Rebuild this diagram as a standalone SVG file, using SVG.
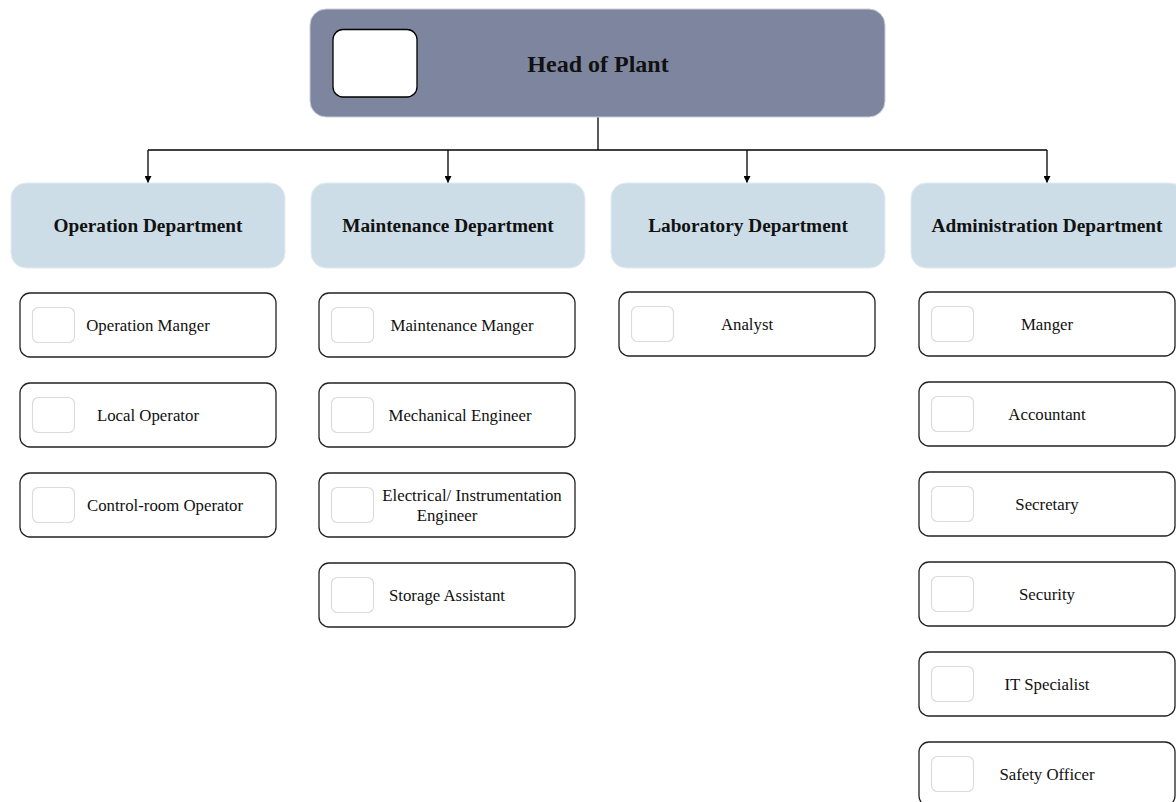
<svg xmlns="http://www.w3.org/2000/svg" width="1176" height="802" viewBox="0 0 1176 802">
  <style>
    .head { fill: #7e859e; stroke: #c9ccd6; stroke-width: 1; }
    .photo { fill: #ffffff; stroke: #000000; stroke-width: 1.3; }
    .dept { fill: #cddde7; stroke: #e3ebf1; stroke-width: 1; }
    .item { fill: #ffffff; stroke: #222222; stroke-width: 1.3; }
    .icon { fill: #ffffff; stroke: #dcdcdc; stroke-width: 1.2; }
    .wire { fill: none; stroke: #000000; stroke-width: 1.3; }
    text { font-family: "Liberation Serif", "Times New Roman", serif; fill: #111111; text-anchor: middle; }
    .t-head { font-size: 24px; font-weight: bold; }
    .t-dept { font-size: 19.3px; font-weight: bold; }
    .t-item { font-size: 16.8px; }
  </style>
  <defs>
    <marker id="arrow" viewBox="0 0 10 10" refX="10" refY="5" markerWidth="7" markerHeight="7" markerUnits="userSpaceOnUse" orient="auto">
      <path d="M0,0 L10,5 L0,10 z" fill="#000000"/>
    </marker>
  </defs>

  <!-- connectors -->
  <g id="connectors">
    <path class="wire" d="M598,117 V150"/>
    <path class="wire" d="M148,150 H1047"/>
    <path class="wire" d="M148,150 V183" marker-end="url(#arrow)"/>
    <path class="wire" d="M448,150 V183" marker-end="url(#arrow)"/>
    <path class="wire" d="M747,150 V183" marker-end="url(#arrow)"/>
    <path class="wire" d="M1047,150 V183" marker-end="url(#arrow)"/>
  </g>

  <!-- top node -->
  <g id="head-of-plant">
    <rect class="head" x="310" y="9" width="575" height="108" rx="16"/>
    <rect class="photo" x="333" y="29.5" width="84" height="67.5" rx="10"/>
    <text class="t-head" x="598" y="72">Head of Plant</text>
  </g>

  <!-- departments -->
  <g id="dept-operation">
    <rect class="dept" x="11" y="183" width="274" height="85" rx="15"/>
    <text class="t-dept" x="148" y="232">Operation Department</text>
  </g>
  <g id="dept-maintenance">
    <rect class="dept" x="311" y="183" width="274" height="85" rx="15"/>
    <text class="t-dept" x="448" y="232">Maintenance Department</text>
  </g>
  <g id="dept-laboratory">
    <rect class="dept" x="611" y="183" width="274" height="85" rx="15"/>
    <text class="t-dept" x="748" y="232">Laboratory Department</text>
  </g>
  <g id="dept-administration">
    <rect class="dept" x="911" y="183" width="274" height="85" rx="15"/>
    <text class="t-dept" x="1047" y="232">Administration Department</text>
  </g>

  <!-- operation staff -->
  <g id="operation-manager">
    <rect class="item" x="20" y="293" width="256" height="64" rx="10"/>
    <rect class="icon" x="32.5" y="307.5" width="42" height="35" rx="6"/>
    <text class="t-item" x="148" y="331">Operation Manger</text>
  </g>
  <g id="local-operator">
    <rect class="item" x="20" y="383" width="256" height="64" rx="10"/>
    <rect class="icon" x="32.5" y="397.5" width="42" height="35" rx="6"/>
    <text class="t-item" x="148" y="421">Local Operator</text>
  </g>
  <g id="control-room-operator">
    <rect class="item" x="20" y="473" width="256" height="64" rx="10"/>
    <rect class="icon" x="32.5" y="487.5" width="42" height="35" rx="6"/>
    <text class="t-item" x="165" y="511">Control-room Operator</text>
  </g>

  <!-- maintenance staff -->
  <g id="maintenance-manager">
    <rect class="item" x="319" y="293" width="256" height="64" rx="10"/>
    <rect class="icon" x="331.5" y="307.5" width="42" height="35" rx="6"/>
    <text class="t-item" x="462" y="331">Maintenance Manger</text>
  </g>
  <g id="mechanical-engineer">
    <rect class="item" x="319" y="383" width="256" height="64" rx="10"/>
    <rect class="icon" x="331.5" y="397.5" width="42" height="35" rx="6"/>
    <text class="t-item" x="460" y="421">Mechanical Engineer</text>
  </g>
  <g id="electrical-engineer">
    <rect class="item" x="319" y="473" width="256" height="64" rx="10"/>
    <rect class="icon" x="331.5" y="487.5" width="42" height="35" rx="6"/>
    <text class="t-item" x="472" y="501">Electrical/ Instrumentation</text>
    <text class="t-item" x="447" y="521">Engineer</text>
  </g>
  <g id="storage-assistant">
    <rect class="item" x="319" y="563" width="256" height="64" rx="10"/>
    <rect class="icon" x="331.5" y="577.5" width="42" height="35" rx="6"/>
    <text class="t-item" x="447" y="601">Storage Assistant</text>
  </g>

  <!-- laboratory staff -->
  <g id="analyst">
    <rect class="item" x="619" y="292" width="256" height="64" rx="10"/>
    <rect class="icon" x="631.5" y="306.5" width="42" height="35" rx="6"/>
    <text class="t-item" x="747" y="330">Analyst</text>
  </g>

  <!-- administration staff -->
  <g id="admin-manager">
    <rect class="item" x="919" y="292" width="256" height="64" rx="10"/>
    <rect class="icon" x="931.5" y="306.5" width="42" height="35" rx="6"/>
    <text class="t-item" x="1047" y="330">Manger</text>
  </g>
  <g id="accountant">
    <rect class="item" x="919" y="382" width="256" height="64" rx="10"/>
    <rect class="icon" x="931.5" y="396.5" width="42" height="35" rx="6"/>
    <text class="t-item" x="1047" y="420">Accountant</text>
  </g>
  <g id="secretary">
    <rect class="item" x="919" y="472" width="256" height="64" rx="10"/>
    <rect class="icon" x="931.5" y="486.5" width="42" height="35" rx="6"/>
    <text class="t-item" x="1047" y="510">Secretary</text>
  </g>
  <g id="security">
    <rect class="item" x="919" y="562" width="256" height="64" rx="10"/>
    <rect class="icon" x="931.5" y="576.5" width="42" height="35" rx="6"/>
    <text class="t-item" x="1047" y="600">Security</text>
  </g>
  <g id="it-specialist">
    <rect class="item" x="919" y="652" width="256" height="64" rx="10"/>
    <rect class="icon" x="931.5" y="666.5" width="42" height="35" rx="6"/>
    <text class="t-item" x="1047" y="690">IT Specialist</text>
  </g>
  <g id="safety-officer">
    <rect class="item" x="919" y="742" width="256" height="64" rx="10"/>
    <rect class="icon" x="931.5" y="756.5" width="42" height="35" rx="6"/>
    <text class="t-item" x="1047" y="780">Safety Officer</text>
  </g>
</svg>
